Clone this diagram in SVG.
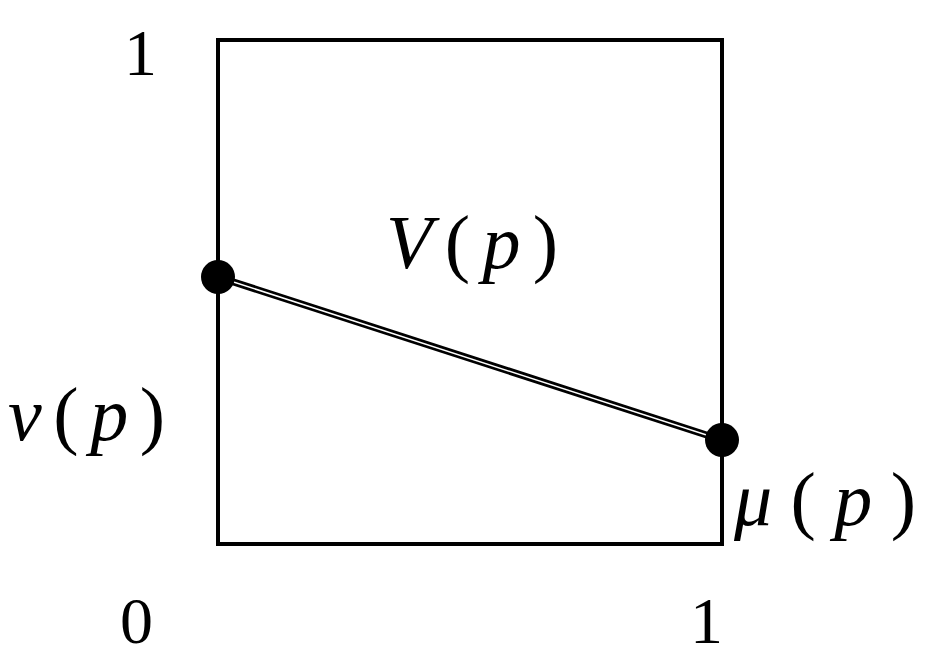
<svg xmlns="http://www.w3.org/2000/svg" width="939" height="662" viewBox="0 0 939 662">
<style>
text{font-family:"Liberation Serif",serif;font-size:66px;fill:#000}
.lab{font-size:76px}
.it{font-style:italic}
</style>
<rect width="939" height="662" fill="#fff"/>
<g id="box"><rect x="218" y="40" width="504" height="504" fill="none" stroke="#000" stroke-width="4"/></g>
<g id="connectors">
<line x1="218" y1="277" x2="722" y2="440" stroke="#000" stroke-width="7"/>
<line x1="218" y1="277" x2="722" y2="440" stroke="#fff" stroke-width="1.5"/>
</g>
<g id="dotL"><circle cx="218" cy="277" r="17"/></g>
<g id="dotR"><circle cx="722" cy="440" r="17"/></g>
<g id="labels">
<text x="124" y="75">1</text>
<text x="120" y="643">0</text>
<text x="690" y="643">1</text>
<text class="lab" x="386" y="268" textLength="172" lengthAdjust="spacing"><tspan class="it">V</tspan>(<tspan class="it">p</tspan>)</text>
<text class="lab" x="8" y="440" textLength="157" lengthAdjust="spacing"><tspan class="it">ν</tspan>(<tspan class="it">p</tspan>)</text>
<text class="lab" x="734" y="525" textLength="182" lengthAdjust="spacing"><tspan class="it">μ</tspan>(<tspan class="it">p</tspan>)</text>
</g>
</svg>
